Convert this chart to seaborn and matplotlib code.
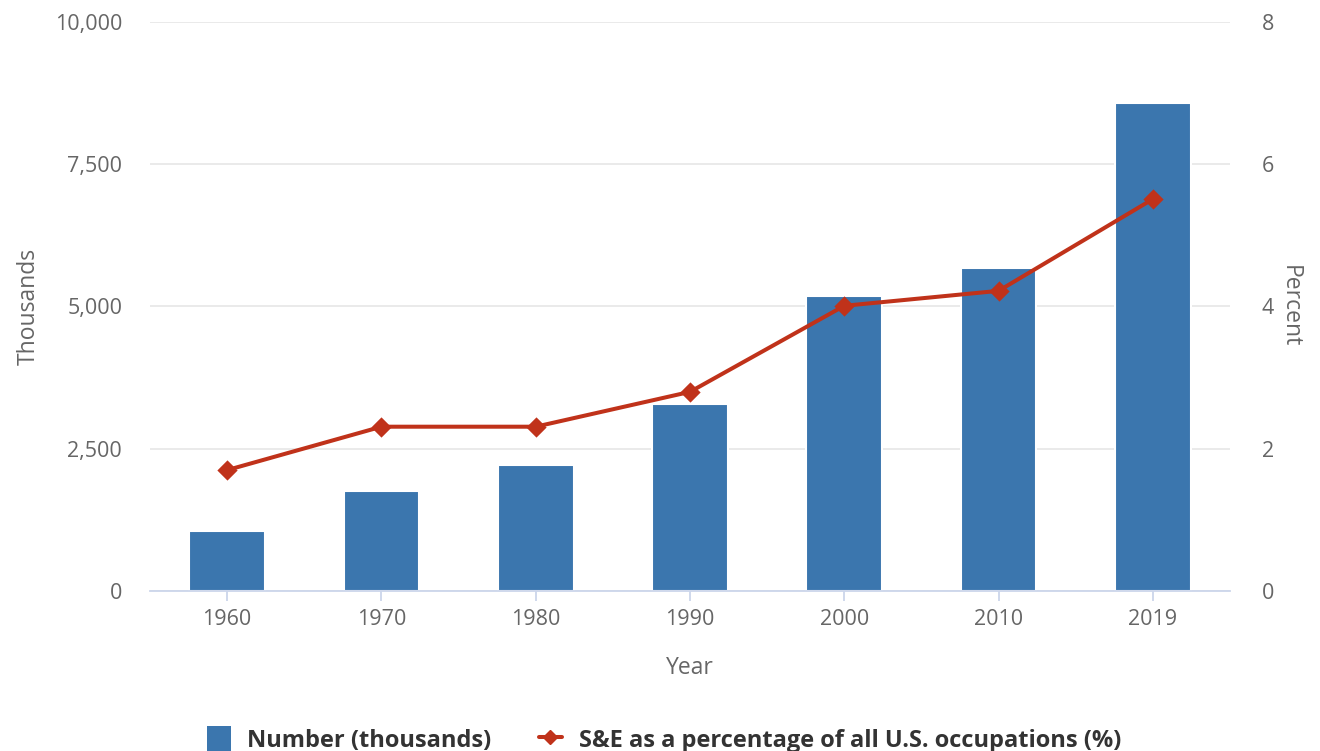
import matplotlib
matplotlib.use("Agg")
import matplotlib.pyplot as plt
import seaborn as sns
import pandas as pd
from matplotlib.ticker import FuncFormatter
from matplotlib.patches import Patch
from matplotlib.lines import Line2D

years = ["1960", "1970", "1980", "1990", "2000", "2010", "2019"]
number_thousands = [1062, 1762, 2220, 3280, 5190, 5680, 8570]
pct_occupations = [1.70, 2.31, 2.31, 2.80, 4.01, 4.22, 5.51]

bar_label = "Number (thousands)"
line_label = "S&E as a percentage of all U.S. occupations (%)"

sns.set_theme(style="white")
plt.rcParams['font.family'] = ['Open Sans', 'DejaVu Sans']

BAR_C = "#3b76ae"
LINE_C = "#c0321a"
TICK_C = "#666666"

df = pd.DataFrame({"Year": years, "Number": number_thousands, "Pct": pct_occupations})

fig = plt.figure(figsize=(13.2, 7.51), dpi=100)
ax = fig.add_axes([150/1320, 1-591/751, 1080/1320, 569/751])

sns.barplot(data=df, x="Year", y="Number", ax=ax, color=BAR_C, width=0.49,
            saturation=1, edgecolor="white", linewidth=1.5, zorder=2)
ax.set_ylim(0, 10000)
ax.set_xlim(-0.5, 6.5)
ax.set_yticks([0, 2500, 5000, 7500, 10000])
ax.yaxis.set_major_formatter(FuncFormatter(lambda v, p: f"{int(v):,}"))
ax.grid(axis="y", color="#e6e6e6", linewidth=1.2, zorder=0)
ax.set_axisbelow(True)
for s in ["top", "right", "left"]:
    ax.spines[s].set_visible(False)
ax.spines["bottom"].set_color("#ccd6eb")
ax.spines["bottom"].set_linewidth(1.3)
ax.tick_params(axis="x", colors=TICK_C, labelsize=15.5, length=7, width=1.3,
               direction="out", pad=6, bottom=True)
ax.tick_params(axis="x", color="#ccd6eb")
ax.tick_params(axis="y", colors=TICK_C, labelsize=15.5, length=0, pad=20)
ax.set_xlabel("Year", color=TICK_C, fontsize=16.5, labelpad=19)
ax.set_ylabel("Thousands", color=TICK_C, fontsize=16.5, labelpad=10)

ax2 = ax.twinx()
sns.pointplot(data=df, x="Year", y="Pct", ax=ax2, color=LINE_C, markers="D",
              linewidth=2.9, markersize=8)
ax2.set_ylim(0, 8)
ax2.set_xlim(-0.5, 6.5)
ax2.set_yticks([0, 2, 4, 6, 8])
for s in ["top", "right", "left", "bottom"]:
    ax2.spines[s].set_visible(False)
ax2.tick_params(axis="y", colors=TICK_C, labelsize=15.5, length=0, pad=23)
ax2.set_ylabel("Percent", color=TICK_C, fontsize=16.5, rotation=270, labelpad=20)
ax2.set_xlabel("")

handles = [Patch(facecolor=BAR_C, edgecolor="none"),
           Line2D([0], [0], color=LINE_C, lw=2.9, marker="D", markersize=7)]
leg = fig.legend(handles, [bar_label, line_label], loc="lower center",
                 bbox_to_anchor=(0.503, -0.031), ncol=2, frameon=False,
                 prop={"family": "Open Sans", "weight": "bold", "size": 17},
                 handlelength=1.0, handleheight=1.3, handletextpad=0.7, columnspacing=2.0)
for t in leg.get_texts():
    t.set_color("#333333")

fig.savefig("out.png", dpi=100)
